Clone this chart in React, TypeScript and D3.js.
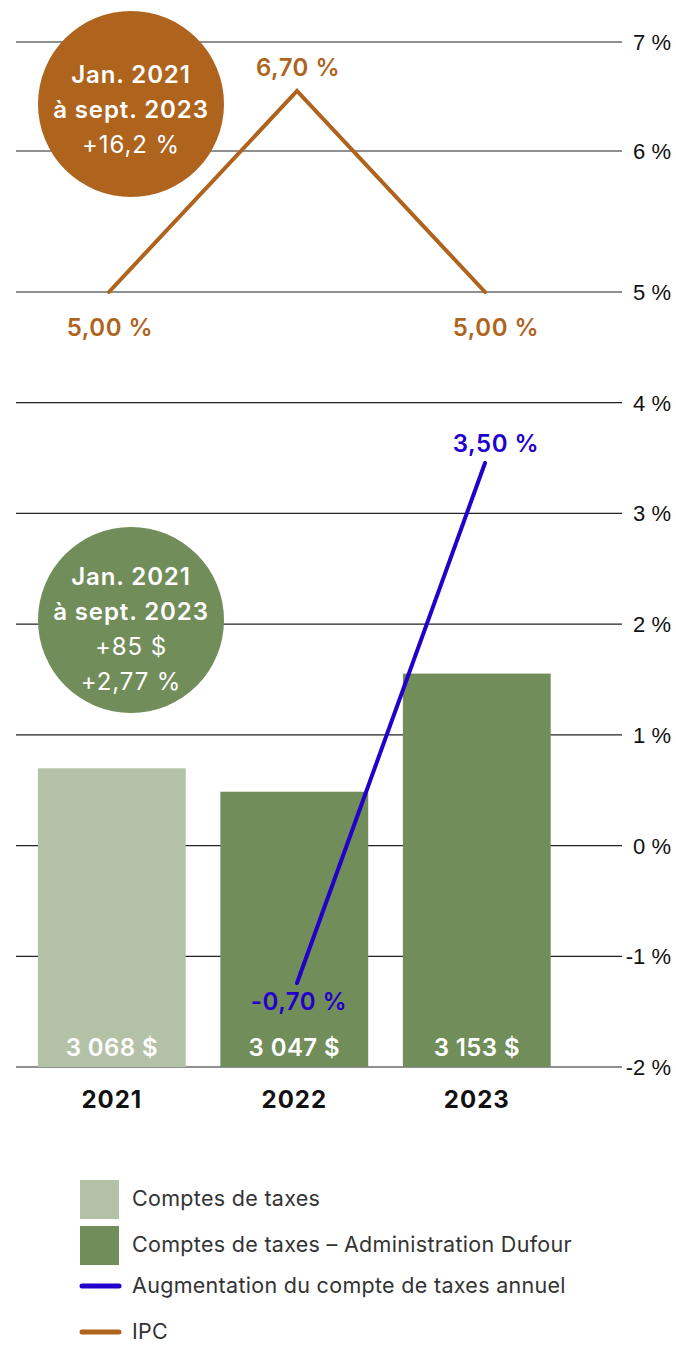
import React from "react";
import * as d3 from "d3";

const years = ["2021", "2022", "2023"];
const taxBills = [3068, 3047, 3153];
const isDufour = [false, true, true];

const cpiYears = ["2021", "2022", "2023"];
const cpiValues = [5.0, 6.7, 5.0];

const increaseYears = ["2022", "2023"];
const increaseValues = [-0.7, 3.5];

const axisTicks = [7, 6, 5, 4, 3, 2, 1, 0, -1, -2];

const cpiBubbleLines = ["Jan. 2021", "à sept. 2023", "+16,2 %"];
const cpiBubbleBold = [true, true, false];
const taxBubbleLines = ["Jan. 2021", "à sept. 2023", "+85 $", "+2,77 %"];
const taxBubbleBold = [true, true, false, false];

const legendLabels = [
  "Comptes de taxes",
  "Comptes de taxes – Administration Dufour",
  "Augmentation du compte de taxes annuel",
  "IPC",
];
const legendKinds = ["rect", "rect", "line", "line"];

const W = 676;
const H = 1345;
const C_LIGHT = "#b3c2a6";
const C_DARK = "#718d5a";
const C_ORANGE = "#af641e";
const C_BLUE = "#2200cc";
const FONT = "Inter, 'Open Sans', 'DejaVu Sans', sans-serif";
const legendColors = [C_LIGHT, C_DARK, C_BLUE, C_ORANGE];

const fr = d3.formatLocale({
  decimal: ",",
  thousands: "\u00a0",
  grouping: [3],
  currency: ["", "\u00a0$"],
  minus: "-",
} as any);
const fmtMoney = fr.format("$,d");
const fmtPct2 = (v: number) => fr.format(".2f")(v) + "\u00a0%";
const fmtTick = (v: number) => fr.format("d")(v) + "\u00a0%";

export default function App() {
  const left = 16;
  const gridRight = 622;

  // Right axis (percent) – piecewise linear as in the design
  const yAxis = d3.scaleLinear().domain([-2, 5, 6, 7]).range([1067, 292, 151, 42]);

  // Bars
  const x = d3
    .scaleBand<string>()
    .domain(years)
    .range([left, 572.6])
    .paddingInner(0.19)
    .paddingOuter(0.12);
  const yBar = d3.scaleLinear().domain([2800, 3200]).range([1067, 621.2]);

  // Lines
  const xLine = d3.scalePoint<string>().domain(years).range([109, 485]);
  const yCpi = d3.scaleLinear().domain([5, 6.7]).range([292, 91]);
  const yInc = d3.scaleLinear().domain([-0.7, 3.5]).range([983, 463]);

  const cpiLine = d3
    .line<number>()
    .x((_, i) => xLine(cpiYears[i])!)
    .y((d) => yCpi(d));
  const incLine = d3
    .line<number>()
    .x((_, i) => xLine(increaseYears[i])!)
    .y((d) => yInc(d));

  const bw = x.bandwidth();
  const lastYear = years[years.length - 1];

  return (
    <svg
      width={W}
      height={H}
      style={{ position: "absolute", left: 0, top: 0, display: "block", background: "#fff" }}
      fontFamily={FONT}
    >
      {/* grid + tick labels */}
      {axisTicks.map((t) => (
        <g key={t}>
          <line x1={left} x2={gridRight} y1={yAxis(t)} y2={yAxis(t)} stroke="#222" strokeWidth={1.2} />
          <text
            x={671}
            y={yAxis(t) + 8}
            textAnchor="end"
            fontSize={22}
            fontFamily="'Liberation Sans', Arial, sans-serif"
            fill="#111"
          >
            {fmtTick(t)}
          </text>
        </g>
      ))}

      {/* bars */}
      {years.map((yr, i) => (
        <g key={yr}>
          <rect
            x={x(yr)}
            y={yBar(taxBills[i])}
            width={bw}
            height={yBar(2800) - yBar(taxBills[i])}
            fill={isDufour[i] ? C_DARK : C_LIGHT}
          />
          <text
            x={x(yr)! + bw / 2}
            y={1056}
            textAnchor="middle"
            fontSize={24}
            fontWeight={600}
            letterSpacing={0.4}
            fill="#fff"
          >
            {fmtMoney(taxBills[i])}
          </text>
          <text
            x={x(yr)! + bw / 2}
            y={1108}
            textAnchor="middle"
            fontSize={24}
            fontWeight={700}
            letterSpacing={1}
            fill="#111"
          >
            {yr}
          </text>
        </g>
      ))}

      {/* CPI bubble */}
      <circle cx={131} cy={104} r={93} fill={C_ORANGE} />
      {cpiBubbleLines.map((s, i) => (
        <text
          key={s}
          x={131}
          y={83 + i * 35}
          textAnchor="middle"
          fontSize={24}
          fontWeight={cpiBubbleBold[i] ? 600 : 400}
          letterSpacing={0.9}
          fill="#fff"
        >
          {s}
        </text>
      ))}

      {/* Tax bubble */}
      <circle cx={131} cy={620} r={93} fill={C_DARK} />
      {taxBubbleLines.map((s, i) => (
        <text
          key={s}
          x={131}
          y={585 + i * 35}
          textAnchor="middle"
          fontSize={24}
          fontWeight={taxBubbleBold[i] ? 600 : 400}
          letterSpacing={0.9}
          fill="#fff"
        >
          {s}
        </text>
      ))}

      {/* CPI line */}
      <path d={cpiLine(cpiValues)!} fill="none" stroke={C_ORANGE} strokeWidth={4} strokeLinecap="round" strokeLinejoin="miter" />
      {cpiValues.map((v, i) => {
        const isPeak = v === d3.max(cpiValues);
        return (
          <text
            key={i}
            x={xLine(cpiYears[i])! + (cpiYears[i] === lastYear ? 11 : 1)}
            y={isPeak ? yCpi(v) - 15 : yCpi(v) + 44}
            textAnchor="middle"
            fontSize={24}
            fontWeight={600}
            letterSpacing={0.5}
            fill={C_ORANGE}
          >
            {fmtPct2(v)}
          </text>
        );
      })}

      {/* Increase line */}
      <path d={incLine(increaseValues)!} fill="none" stroke={C_BLUE} strokeWidth={4} strokeLinecap="round" />
      {increaseValues.map((v, i) => (
        <text
          key={i}
          x={xLine(increaseYears[i])! + (increaseYears[i] === lastYear ? 11 : 2)}
          y={v < 0 ? yInc(v) + 27 : yInc(v) - 11}
          textAnchor="middle"
          fontSize={24}
          fontWeight={600}
          letterSpacing={0.5}
          fill={C_BLUE}
        >
          {fmtPct2(v)}
        </text>
      ))}

      {/* legend */}
      {legendLabels.map((lab, i) => {
        const cy = [1199, 1245, 1286, 1332][i];
        return (
          <g key={lab}>
            {legendKinds[i] === "rect" ? (
              <rect x={80} y={cy - 19} width={39} height={39} fill={legendColors[i]} />
            ) : (
              <line x1={82} x2={119} y1={cy} y2={cy} stroke={legendColors[i]} strokeWidth={5} strokeLinecap="round" />
            )}
            <text x={132} y={cy + 7} fontSize={21.5} letterSpacing={0.3} fill="#333">
              {lab}
            </text>
          </g>
        );
      })}
    </svg>
  );
}
